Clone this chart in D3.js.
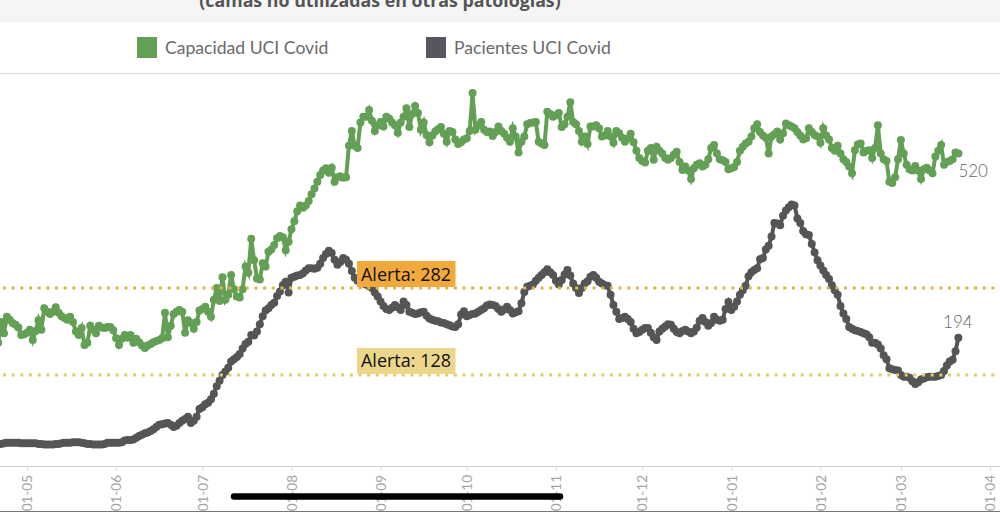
<!DOCTYPE html>
<html>
<head>
<meta charset="utf-8">
<script src="https://cdn.jsdelivr.net/npm/d3@7"></script>
<style>
  html, body { margin: 0; padding: 0; background: #fff; overflow: hidden; }
  svg { display: block; }
  text { font-family: Lato, sans-serif; }
</style>
</head>
<body>
<div id="chart"></div>
<script>
// values, one list per month, daily from 21 Apr 2020
var capAbr = [185, 222, 202, 231, 226, 220, 217, 212, 199, 200];
var capMay = [203, 208, 190, 206, 225, 208, 246, 240, 236, 240, 248, 238, 232, 229, 226, 231, 222, 205, 199, 211, 181, 185, 215, 208, 202, 215, 212, 211, 213, 213, 207];
var capJun = [193, 181, 192, 199, 194, 199, 185, 192, 186, 180, 176, 180, 183, 186, 188, 190, 193, 238, 195, 215, 236, 240, 243, 240, 203, 225, 220, 210, 222, 242];
var capJul = [245, 249, 240, 231, 261, 282, 259, 301, 261, 270, 305, 280, 267, 265, 280, 320, 309, 369, 331, 299, 297, 326, 320, 346, 350, 358, 370, 374, 372, 349, 364];
var capAgo = [386, 400, 418, 428, 424, 428, 436, 448, 458, 470, 482, 490, 494, 486, 495, 470, 478, 480, 477, 478, 534, 560, 534, 530, 575, 585, 585, 597, 578, 560, 570];
var capSep = [576, 568, 585, 582, 575, 570, 557, 575, 585, 600, 567, 590, 604, 592, 562, 575, 553, 540, 552, 559, 563, 567, 555, 541, 560, 558, 545, 537, 540, 545];
var capOct = [547, 560, 627, 562, 570, 576, 562, 558, 559, 551, 558, 568, 560, 555, 548, 541, 565, 550, 522, 541, 550, 572, 574, 575, 576, 541, 538, 535, 594, 590, 585];
var capNov = [588, 592, 567, 572, 585, 611, 576, 572, 560, 541, 550, 537, 568, 568, 570, 565, 550, 552, 560, 550, 539, 560, 556, 548, 541, 547, 555, 540, 525, 512];
var capDic = [507, 504, 525, 530, 509, 532, 525, 520, 512, 509, 512, 518, 523, 505, 491, 497, 490, 475, 494, 500, 503, 497, 500, 510, 530, 535, 520, 510, 508, 505, 492];
var capEne = [494, 496, 505, 525, 532, 538, 541, 550, 565, 572, 558, 552, 548, 520, 550, 554, 559, 545, 556, 573, 570, 568, 565, 558, 552, 545, 547, 565, 558, 553, 550];
var capFeb = [539, 565, 552, 545, 530, 525, 534, 520, 510, 505, 497, 485, 526, 536, 538, 522, 525, 526, 512, 530, 570, 520, 510, 507, 470, 468, 478, 510];
var capMar = [544, 520, 500, 492, 490, 498, 490, 475, 492, 495, 490, 485, 515, 525, 535, 500, 505, 507, 510, 522, 520];

var pacAbr = [6, 6, 7, 8, 8, 8, 8, 8, 7, 7];
var pacMay = [7, 7, 7, 7, 6, 6, 5, 5, 5, 5, 6, 6, 7, 8, 8, 8, 9, 9, 9, 8, 7, 6, 6, 5, 5, 5, 5, 6, 8, 8, 8];
var pacJun = [8, 8, 9, 12, 13, 13, 14, 17, 20, 22, 25, 26, 29, 32, 36, 40, 41, 42, 43, 40, 36, 38, 43, 47, 50, 54, 43, 47, 54, 68];
var pacJul = [71, 76, 79, 85, 95, 108, 118, 128, 134, 141, 152, 156, 160, 165, 175, 183, 187, 199, 198, 205, 218, 232, 242, 246, 252, 256, 268, 276, 287, 293, 274];
var pacAgo = [300, 302, 304, 305, 308, 313, 317, 317, 316, 318, 325, 335, 342, 348, 344, 332, 323, 328, 335, 332, 325, 312, 300, 295, 292, 290, 288, 285, 282, 274, 267];
var pacSep = [258, 250, 245, 243, 247, 252, 248, 243, 258, 252, 240, 238, 236, 237, 239, 240, 233, 228, 226, 224, 223, 221, 220, 218, 216, 214, 213, 218, 235, 241];
var pacOct = [232, 234, 236, 237, 240, 243, 246, 251, 253, 252, 250, 245, 240, 244, 249, 243, 237, 239, 241, 255, 275, 284, 286, 288, 295, 300, 305, 310, 315, 310, 305];
var pacNov = [295, 288, 296, 306, 314, 304, 290, 282, 273, 282, 290, 294, 302, 305, 300, 293, 290, 287, 286, 270, 252, 240, 227, 229, 231, 227, 222, 210, 202, 204];
var pacDic = [208, 211, 211, 203, 195, 190, 205, 210, 214, 218, 217, 210, 204, 202, 206, 208, 205, 202, 205, 212, 224, 229, 222, 215, 220, 231, 226, 224, 226, 245, 257];
var pacEne = [243, 249, 258, 270, 278, 286, 303, 310, 314, 317, 333, 335, 350, 357, 373, 397, 396, 393, 410, 419, 425, 430, 428, 405, 397, 383, 377, 376, 360, 345, 331];
var pacFeb = [322, 313, 305, 298, 287, 278, 270, 250, 237, 227, 213, 210, 207, 206, 204, 202, 200, 195, 185, 185, 182, 175, 163, 156, 140, 138, 137, 136];
var pacMar = [128, 125, 125, 123, 117, 112, 115, 120, 122, 124, 125, 125, 125, 126, 128, 135, 145, 152, 155, 170, 194];

var capacidad = [].concat(capAbr, capMay, capJun, capJul, capAgo, capSep, capOct, capNov, capDic, capEne, capFeb, capMar);
var pacientes = [].concat(pacAbr, pacMay, pacJun, pacJul, pacAgo, pacSep, pacOct, pacNov, pacDic, pacEne, pacFeb, pacMar);

var legendNames = ["Capacidad UCI Covid", "Pacientes UCI Covid"];
var alertas = [282, 128];
var tituloCortado = "(camas no utilizadas en otras patologías)";

var colores = { cap: "#63a055", pac: "#555555", leyPac: "#55565f", alerta: "#e7b04a" };

var w = 1000, h = 512;
var start = new Date(Date.UTC(2020, 3, 21));

var svg = d3.select("#chart").append("svg").attr("width", w).attr("height", h);

// scales are pinned to the month ticks and the two alert lines
var x = d3.scaleUtc()
  .domain([new Date(Date.UTC(2020, 4, 1)), new Date(Date.UTC(2021, 3, 1))])
  .range([27, 990]);
var y = d3.scaleLinear().domain([0, 282]).range([447.3, 288]);

// title band, cut off at the top of the picture
svg.append("rect").attr("width", w).attr("height", 22.5).attr("fill", "#f5f5f5");
svg.append("text")
  .attr("x", 380).attr("y", 7)
  .attr("text-anchor", "middle")
  .attr("font-size", 17.8).attr("font-weight", 700).attr("fill", "#555")
  .style("font-family", "'Open Sans', sans-serif")
  .text(tituloCortado);

// legend
var legendX = [137, 426];
var legend = svg.selectAll("g.ley").data(legendNames).enter().append("g")
  .attr("class", "ley")
  .attr("transform", function(d, i) { return "translate(" + legendX[i] + ",37)"; });
legend.append("rect")
  .attr("width", 20).attr("height", 21)
  .attr("fill", function(d, i) { return i == 0 ? colores.cap : colores.leyPac; });
legend.append("text")
  .attr("x", 28).attr("y", 17)
  .attr("font-size", 17.6).attr("fill", "#6a6a6a")
  .text(function(d) { return d; });

svg.append("line").attr("x1", 0).attr("x2", w).attr("y1", 73.5).attr("y2", 73.5).attr("stroke", "#d4d4d4");

// bottom axis
var axis = svg.append("g")
  .attr("transform", "translate(0,466)")
  .call(d3.axisBottom(x)
    .ticks(d3.utcMonth.every(1))
    .tickSize(5)
    .tickPadding(4)
    .tickFormat(d3.utcFormat("%d-%m")));
axis.select(".domain").attr("stroke", "#d0d0d0").attr("d", "M0,0.5H1000");
axis.selectAll(".tick line").attr("stroke", "#dcdcdc");
axis.selectAll(".tick text")
  .attr("transform", "rotate(-90)")
  .attr("x", -9).attr("y", 0).attr("dy", "0.35em")
  .attr("text-anchor", "end")
  .attr("font-size", 13.5).attr("fill", "#a3a3a3")
  .style("font-family", "Lato, sans-serif");

// both series: line plus a dot per day
function dibujar(valores, color) {
  var datos = valores.map(function(v, i) { return { fecha: d3.utcDay.offset(start, i), v: v }; });
  var linea = d3.line()
    .x(function(d) { return x(d.fecha); })
    .y(function(d) { return y(d.v); });
  svg.append("path").datum(datos)
    .attr("d", linea).attr("fill", "none")
    .attr("stroke", color).attr("stroke-width", 4);
  svg.append("g").selectAll("circle").data(datos).enter().append("circle")
    .attr("cx", function(d) { return x(d.fecha); })
    .attr("cy", function(d) { return y(d.v); })
    .attr("r", 4).attr("fill", color);
  return datos[datos.length - 1];
}
var finCap = dibujar(capacidad, colores.cap);
var finPac = dibujar(pacientes, colores.pac);

// alert lines sit on top of the series
svg.selectAll("line.alerta").data(alertas).enter().append("line")
  .attr("class", "alerta")
  .attr("x1", 3).attr("x2", w)
  .attr("y1", function(d) { return y(d); }).attr("y2", function(d) { return y(d); })
  .attr("stroke", function(d, i) { return i == 0 ? colores.alerta : "#e9c766"; })
  .attr("stroke-width", 3).attr("stroke-dasharray", "3 5.67");

var alertaFill = ["#f2a93c", "#ecd68c"];
var etiquetas = svg.selectAll("g.etq").data(alertas).enter().append("g")
  .attr("class", "etq")
  .attr("transform", function(d) { return "translate(357," + (y(d) - 27) + ")"; });
etiquetas.append("rect").attr("width", 98.5).attr("height", 26)
  .attr("fill", function(d, i) { return alertaFill[i]; });
etiquetas.append("text")
  .attr("x", 49).attr("y", 19.5).attr("text-anchor", "middle")
  .attr("font-size", 18).attr("fill", "#111")
  .style("font-family", "'Open Sans', sans-serif")
  .text(function(d) { return "Alerta: " + d; });

// end labels
svg.append("text").attr("x", x(finCap.fecha)).attr("y", 177)
  .attr("font-size", 17).attr("font-weight", 300).attr("fill", "#666").text(finCap.v);
svg.append("text").attr("x", x(finPac.fecha) - 0.5).attr("y", 328)
  .attr("text-anchor", "middle")
  .attr("font-size", 17).attr("font-weight", 300).attr("fill", "#666").text(finPac.v);

// the phone's home bar and the bottom edge of the screenshot
svg.append("line").attr("x1", 234).attr("x2", 560).attr("y1", 496.5).attr("y2", 496.5)
  .attr("stroke", "#000").attr("stroke-width", 6.5).attr("stroke-linecap", "round");
svg.append("line").attr("x1", 0).attr("x2", w).attr("y1", 511.5).attr("y2", 511.5).attr("stroke", "#777");
</script>
</body>
</html>
